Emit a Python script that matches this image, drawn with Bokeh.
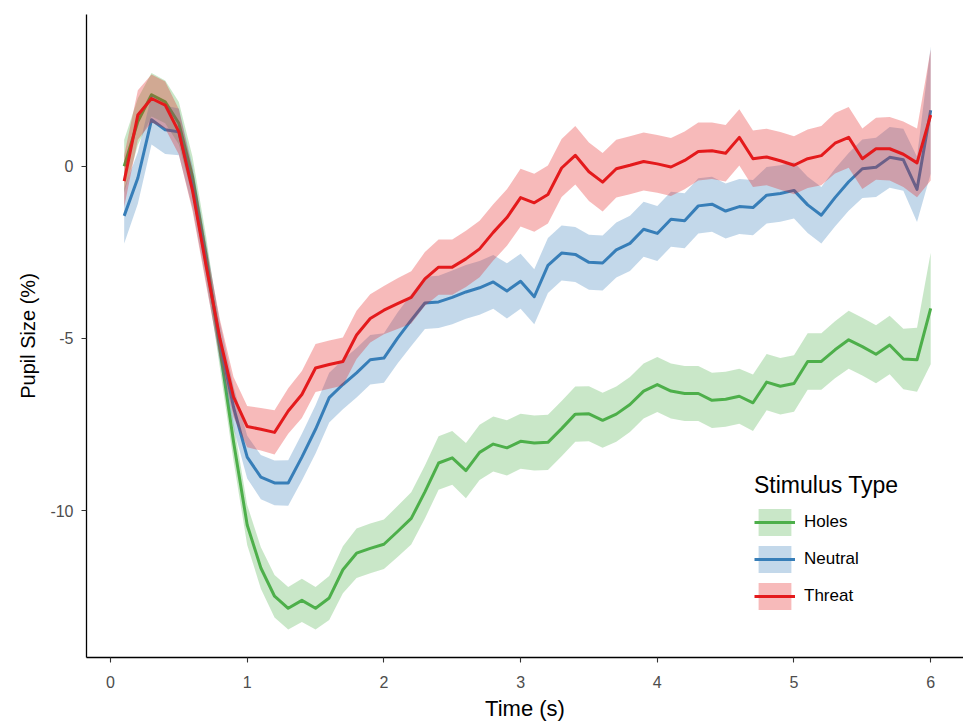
from bokeh.plotting import figure
from bokeh.models import Legend, LegendItem, FixedTicker, ColumnDataSource, Range1d
from bokeh.embed import file_html
from bokeh.resources import INLINE

# ---- data ----
time_s = [0.1, 0.2, 0.3, 0.4, 0.5, 0.6, 0.7, 0.8, 0.9, 1.0,
          1.1, 1.2, 1.3, 1.4, 1.5, 1.6, 1.7, 1.8, 1.9, 2.0,
          2.1, 2.2, 2.3, 2.4, 2.5, 2.6, 2.7, 2.8, 2.9, 3.0,
          3.1, 3.2, 3.3, 3.4, 3.5, 3.6, 3.7, 3.8, 3.9, 4.0,
          4.1, 4.2, 4.3, 4.4, 4.5, 4.6, 4.7, 4.8, 4.9, 5.0,
          5.1, 5.2, 5.3, 5.4, 5.5, 5.6, 5.7, 5.8, 5.9, 6.0]

holes_mean = [0.00, 1.30, 2.08, 1.87, 1.25, -0.30, -2.60, -5.30, -8.00, -10.42,
              -11.67, -12.49, -12.84, -12.61, -12.84, -12.54, -11.72, -11.24, -11.10, -10.98,
              -10.61, -10.23, -9.46, -8.62, -8.47, -8.84, -8.31, -8.07, -8.18, -7.99,
              -8.04, -8.02, -7.62, -7.20, -7.19, -7.38, -7.20, -6.92, -6.53, -6.34,
              -6.53, -6.60, -6.60, -6.80, -6.77, -6.68, -6.87, -6.27, -6.39, -6.31,
              -5.67, -5.67, -5.33, -5.04, -5.24, -5.46, -5.19, -5.60, -5.62, -4.13]
holes_se = [0.77, 0.68, 0.63, 0.62, 0.62, 0.58, 0.55, 0.55, 0.56, 0.58,
            0.60, 0.62, 0.62, 0.63, 0.62, 0.64, 0.68, 0.72, 0.72, 0.72,
            0.74, 0.76, 0.77, 0.78, 0.78, 0.80, 0.80, 0.80, 0.80, 0.80,
            0.80, 0.80, 0.80, 0.80, 0.80, 0.80, 0.80, 0.80, 0.80, 0.80,
            0.80, 0.80, 0.80, 0.80, 0.80, 0.80, 0.82, 0.82, 0.82, 0.82,
            0.82, 0.82, 0.83, 0.84, 0.84, 0.84, 0.85, 0.88, 0.93, 1.62]

neutral_mean = [-1.44, -0.34, 1.35, 1.06, 1.00, -0.60, -2.80, -5.10, -7.00, -8.45,
                -9.03, -9.20, -9.20, -8.45, -7.64, -6.72, -6.34, -6.00, -5.62, -5.57,
                -4.99, -4.47, -3.97, -3.94, -3.81, -3.65, -3.53, -3.36, -3.62, -3.34,
                -3.79, -2.88, -2.52, -2.56, -2.79, -2.81, -2.43, -2.24, -1.83, -1.95,
                -1.54, -1.58, -1.15, -1.10, -1.30, -1.17, -1.20, -0.84, -0.79, -0.70,
                -1.12, -1.42, -0.91, -0.45, -0.07, -0.03, 0.26, 0.19, -0.67, 1.63]
neutral_se = [0.80, 0.75, 0.72, 0.70, 0.68, 0.62, 0.58, 0.58, 0.60, 0.62,
              0.64, 0.65, 0.66, 0.68, 0.70, 0.72, 0.72, 0.72, 0.72, 0.72,
              0.74, 0.75, 0.76, 0.76, 0.78, 0.78, 0.78, 0.78, 0.80, 0.80,
              0.80, 0.80, 0.80, 0.80, 0.80, 0.80, 0.80, 0.80, 0.80, 0.80,
              0.80, 0.80, 0.80, 0.80, 0.80, 0.80, 0.80, 0.82, 0.82, 0.82,
              0.82, 0.82, 0.84, 0.84, 0.85, 0.86, 0.88, 0.90, 0.95, 1.85]

threat_mean = [-0.43, 1.49, 1.97, 1.78, 1.00, -0.70, -2.90, -5.00, -6.70, -7.56,
               -7.64, -7.73, -7.11, -6.63, -5.86, -5.76, -5.67, -4.90, -4.42, -4.18,
               -3.99, -3.81, -3.27, -2.93, -2.93, -2.69, -2.40, -1.92, -1.49, -0.91,
               -1.06, -0.82, -0.05, 0.32, -0.16, -0.46, -0.07, 0.03, 0.14, 0.07,
               -0.02, 0.17, 0.43, 0.45, 0.38, 0.84, 0.22, 0.27, 0.16, 0.03,
               0.22, 0.31, 0.67, 0.84, 0.22, 0.51, 0.51, 0.35, 0.10, 1.49]
threat_se = [0.75, 0.72, 0.70, 0.68, 0.66, 0.60, 0.56, 0.56, 0.58, 0.60,
             0.62, 0.64, 0.66, 0.68, 0.70, 0.70, 0.70, 0.70, 0.70, 0.70,
             0.74, 0.76, 0.78, 0.80, 0.80, 0.82, 0.82, 0.82, 0.82, 0.84,
             0.84, 0.84, 0.84, 0.85, 0.85, 0.85, 0.84, 0.84, 0.84, 0.84,
             0.84, 0.84, 0.84, 0.82, 0.82, 0.82, 0.82, 0.82, 0.84, 0.84,
             0.85, 0.86, 0.88, 0.88, 0.88, 0.90, 0.92, 0.95, 1.00, 1.90]

groups = ["Holes", "Neutral", "Threat"]
colors = ["#4DAF4A", "#377EB8", "#E41A1C"]
means = [holes_mean, neutral_mean, threat_mean]
ses = [holes_se, neutral_se, threat_se]

FONT = "Liberation Sans"

p = figure(width=963, height=723, output_backend="svg", toolbar_location=None,
           x_range=Range1d(-0.1756, 6.24), y_range=Range1d(-14.27, 4.41),
           min_border_left=86, min_border_right=0, min_border_top=14, min_border_bottom=61)

items = []
for g, c, m, s in zip(groups, colors, means, ses):
    src = ColumnDataSource(dict(
        x=time_s, y=m,
        lo=[a - b for a, b in zip(m, s)],
        hi=[a + b for a, b in zip(m, s)]))
    r_area = p.varea(x="x", y1="lo", y2="hi", source=src, fill_color=c, fill_alpha=0.3)
    r_line = p.line(x="x", y="y", source=src, line_color=c, line_width=3, line_join="round")
    items.append(LegendItem(label=g, renderers=[r_area, r_line]))

# axes
p.xgrid.visible = False
p.ygrid.visible = False
p.outline_line_color = None
p.background_fill_color = "white"
p.border_fill_color = "white"

p.xaxis.ticker = FixedTicker(ticks=[0, 1, 2, 3, 4, 5, 6])
p.yaxis.ticker = FixedTicker(ticks=[-10, -5, 0])
p.yaxis.major_label_overrides = {-10: "-10", -5: "-5", 0: "0"}
p.xaxis.axis_label = "Time (s)"
p.yaxis.axis_label = "Pupil Size (%)"

for ax in (p.xaxis, p.yaxis):
    ax.axis_line_color = "black"
    ax.axis_line_width = 1.3
    ax.major_tick_line_color = "#333333"
    ax.major_tick_line_width = 1.1
    ax.major_tick_out = 5
    ax.major_tick_in = 0
    ax.minor_tick_line_color = None
    ax.major_label_text_font = FONT
    ax.major_label_text_font_size = "16px"
    ax.major_label_text_color = "#4D4D4D"
    ax.axis_label_text_font = FONT
    ax.axis_label_text_font_style = "normal"
    ax.axis_label_text_color = "black"

p.xaxis.axis_label_text_font_size = "22px"
p.yaxis.axis_label_text_font_size = "20px"
p.xaxis.major_label_standoff = 13
p.xaxis.axis_label_standoff = 5
p.yaxis.major_label_standoff = 8
p.yaxis.axis_label_standoff = 8

legend = Legend(items=items, location=(668, 44), title="Stimulus Type",
                title_text_font=FONT, title_text_font_size="23px",
                title_text_font_style="normal", title_text_color="black",
                title_standoff=6,
                label_text_font=FONT, label_text_font_size="17px", label_text_color="black",
                glyph_width=41, glyph_height=34, spacing=3, label_standoff=9,
                padding=0, margin=0, border_line_color=None, background_fill_alpha=0)
p.add_layout(legend)

open("out.html", "w").write(file_html(p, INLINE))
